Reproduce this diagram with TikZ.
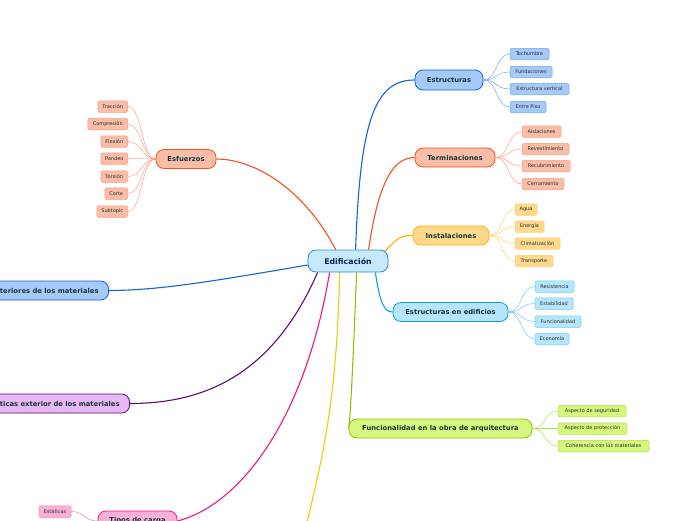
\documentclass[tikz,border=0pt]{standalone}
\usepackage{fontspec}
\setmainfont{DejaVu Sans}
\usetikzlibrary{calc,backgrounds}
\definecolor{maintext}{HTML}{17383A}
\definecolor{ctext}{HTML}{0D2050}
\definecolor{leaftext}{HTML}{2E2E2E}
\definecolor{cfill}{HTML}{C6EAFB}\definecolor{cline}{HTML}{2A8AD8}
\definecolor{bfill}{HTML}{A6C9F8}\definecolor{bline}{HTML}{1565D0}\definecolor{bleaf}{HTML}{6EA6F0}
\definecolor{ofill}{HTML}{F9BDA8}\definecolor{oline}{HTML}{F4511E}\definecolor{oleaf}{HTML}{F7A083}
\definecolor{yfill}{HTML}{FED98B}\definecolor{yline}{HTML}{F9B208}\definecolor{yleaf}{HTML}{FBD16C}
\definecolor{sfill}{HTML}{B5E6FB}\definecolor{sline}{HTML}{0AA0E0}\definecolor{sleaf}{HTML}{6DCBF2}
\definecolor{gfill}{HTML}{D5F77E}\definecolor{gline}{HTML}{8CC10D}\definecolor{gleaf}{HTML}{B4DE4A}
\definecolor{pfill}{HTML}{E7B6F5}\definecolor{pline}{HTML}{5B0F6B}
\definecolor{kfill}{HTML}{FBB0D8}\definecolor{kline}{HTML}{F0157C}\definecolor{kleaf}{HTML}{F27DB4}
\definecolor{ylw}{HTML}{E8D000}
\tikzset{
  mainbox/.style={rounded corners=8pt, draw, line width=0.8pt, inner sep=0pt, minimum height=19pt,
    font=\bfseries\fontsize{6.8}{8}\selectfont, text=maintext},
  leafbox/.style={rounded corners=1.5pt, draw, line width=0.5pt, inner sep=0pt, minimum height=11.5pt,
    font=\fontsize{5}{6}\selectfont, text=leaftext},
  branch/.style={line width=1.1pt},
  twig/.style={line width=0.5pt},
}
\begin{document}
\begin{tikzpicture}[x=1pt,y=-1pt]
\useasboundingbox (0,0) rectangle (696,520);
\clip (0,0) rectangle (696,520);

% central
\node[mainbox, fill=cfill, draw=cline, minimum width=80pt, minimum height=22pt, font=\bfseries\fontsize{7.8}{9}\selectfont, text=ctext] (edif) at (348,261) {Edificación};

% Estructuras
\node[mainbox, fill=bfill, draw=bline, minimum width=68pt, minimum height=20pt] (est) at (449,80) {Estructuras};
\node[leafbox, fill=bfill, draw=bleaf, minimum width=39pt] (e1) at (529.5,54) {Techumbre};
\node[leafbox, fill=bfill, draw=bleaf, minimum width=42pt] (e2) at (531,72) {Fundaciones};
\node[leafbox, fill=bfill, draw=bleaf, minimum width=59pt] (e3) at (539.5,89) {Estructura vertical};
\node[leafbox, fill=bfill, draw=bleaf, minimum width=36pt] (e4) at (528,107) {Entre Piso};

% Terminaciones
\node[mainbox, fill=ofill, draw=oline, minimum width=80pt] (ter) at (455,157.5) {Terminaciones};
\node[leafbox, fill=ofill, draw=oleaf, minimum width=39pt] (t1) at (541.5,131.5) {Aislaciones};
\node[leafbox, fill=ofill, draw=oleaf, minimum width=47pt] (t2) at (545.5,149) {Revestimiento};
\node[leafbox, fill=ofill, draw=oleaf, minimum width=48pt] (t3) at (546,166) {Recubrimiento};
\node[leafbox, fill=ofill, draw=oleaf, minimum width=42pt] (t4) at (543,184) {Cerramiento};

% Instalaciones
\node[mainbox, fill=yfill, draw=yline, minimum width=76pt] (ins) at (451,235.5) {Instalaciones};
\node[leafbox, fill=yfill, draw=yleaf, minimum width=22pt] (i1) at (526,209.5) {Agua};
\node[leafbox, fill=yfill, draw=yleaf, minimum width=29pt] (i2) at (529.5,226.5) {Energía};
\node[leafbox, fill=yfill, draw=yleaf, minimum width=45pt] (i3) at (537.5,243.5) {Climatización};
\node[leafbox, fill=yfill, draw=yleaf, minimum width=38pt] (i4) at (534,261) {Transporte};

% Estructuras en edificios
\node[mainbox, fill=sfill, draw=sline, minimum width=115pt] (eed) at (450.5,312) {Estructuras en edificios};
\node[leafbox, fill=sfill, draw=sleaf, minimum width=39pt] (s1) at (554.5,286.5) {Resistencia};
\node[leafbox, fill=sfill, draw=sleaf, minimum width=38pt] (s2) at (554,303.5) {Estabilidad};
\node[leafbox, fill=sfill, draw=sleaf, minimum width=46pt] (s3) at (558,321.5) {Funcionalidad};
\node[leafbox, fill=sfill, draw=sleaf, minimum width=34pt] (s4) at (552,339) {Economía};

% Funcionalidad
\node[mainbox, fill=gfill, draw=gline, minimum width=183pt] (fun) at (440.5,428.5) {Funcionalidad en la obra de arquitectura};
\node[leafbox, fill=gfill, draw=gleaf, minimum width=68pt] (f1) at (592,411) {Aspecto de seguridad};
\node[leafbox, fill=gfill, draw=gleaf, minimum width=69pt] (f2) at (592.5,428.5) {Aspecto de protección};
\node[leafbox, fill=gfill, draw=gleaf, minimum width=91pt] (f3) at (603.5,446) {Coherencia con los materiales};

% Esfuerzos
\node[mainbox, fill=ofill, draw=oline, minimum width=60pt] (esf) at (186,159) {Esfuerzos};
\node[leafbox, fill=ofill, draw=oleaf, minimum width=30pt, anchor=east] (z1) at (128,106.5) {Tracción};
\node[leafbox, fill=ofill, draw=oleaf, minimum width=40pt, anchor=east] (z2) at (128,124) {Compresión};
\node[leafbox, fill=ofill, draw=oleaf, minimum width=27pt, anchor=east] (z3) at (128,141.5) {Flexión};
\node[leafbox, fill=ofill, draw=oleaf, minimum width=27pt, anchor=east] (z4) at (128,158.5) {Pandeo};
\node[leafbox, fill=ofill, draw=oleaf, minimum width=27pt, anchor=east] (z5) at (128,176.5) {Torsión};
\node[leafbox, fill=ofill, draw=oleaf, minimum width=23pt, anchor=east] (z6) at (128,193.5) {Corte};
\node[leafbox, fill=ofill, draw=oleaf, minimum width=31pt, anchor=east] (z7) at (128,211.5) {Subtopic};

% left nodes (partly outside)
\node[mainbox, fill=bfill, draw=bline, inner xsep=10pt, anchor=east] (cint) at (109,290.5) {Características interiores de los materiales};
\node[mainbox, fill=pfill, draw=pline, inner xsep=10pt, anchor=east] (cext) at (130,403.5) {Características exterior de los materiales};
\node[mainbox, fill=kfill, draw=kline, minimum width=79pt, minimum height=20pt] (tip) at (137.5,521) {Tipos de carga};
\node[leafbox, fill=kfill, draw=kleaf, minimum width=32pt] (k1) at (55,511.5) {Estáticas};

\coordinate (pend) at (307,522);

\begin{scope}[on background layer]
\draw[branch, oline] ([xshift=28pt]edif.north west) .. controls (305,190) and (255,159) .. (esf.east);
\draw[branch, bline] ([xshift=48pt]edif.north west) .. controls (360,120) and (375,80) .. (est.west);
\draw[branch, oline] ([xshift=61pt]edif.north west) .. controls (378,185) and (392,157.5) .. (ter.west);
\draw[branch, yline] ([xshift=-4pt,yshift=-2pt]edif.north east) .. controls (398,238) and (400,235.5) .. (ins.west);
\draw[branch, sline] ([xshift=-13pt]edif.south east) .. controls (380,305) and (385,312) .. (eed.west);
\draw[branch, gline] ([xshift=49pt]edif.south west) .. controls (352,390) and (350,420) .. (fun.west);
\draw[branch, ylw] ([xshift=32pt]edif.south west) .. controls (337,400) and (322,460) .. (pend);
\draw[branch, kline] ([xshift=22pt]edif.south west) .. controls (305,420) and (240,505) .. (tip.east);
\draw[branch, pline] ([xshift=10pt]edif.south west) .. controls (275,370) and (210,403.5) .. (cext.east);
\draw[branch, bline] ([yshift=-4pt]edif.west) .. controls (220,280) and (160,290.5) .. (cint.east);

\foreach \n in {e1,e2,e3,e4}{\draw[twig, bleaf] (est.east) .. controls +(14,0) and +(-14,0) .. (\n.west);}
\foreach \n in {t1,t2,t3,t4}{\draw[twig, oleaf] (ter.east) .. controls +(14,0) and +(-14,0) .. (\n.west);}
\foreach \n in {i1,i2,i3,i4}{\draw[twig, yleaf] (ins.east) .. controls +(14,0) and +(-14,0) .. (\n.west);}
\foreach \n in {s1,s2,s3,s4}{\draw[twig, sleaf] (eed.east) .. controls +(14,0) and +(-14,0) .. (\n.west);}
\foreach \n in {f1,f2,f3}{\draw[twig, gleaf] (fun.east) .. controls +(14,0) and +(-14,0) .. (\n.west);}
\foreach \n in {z1,z2,z3,z4,z5,z6,z7}{\draw[twig, oleaf] (esf.west) .. controls +(-14,0) and +(14,0) .. (\n.east);}
\draw[twig, kleaf] (tip.west) .. controls +(-14,0) and +(14,0) .. (k1.east);
\end{scope}

\end{tikzpicture}
\end{document}
